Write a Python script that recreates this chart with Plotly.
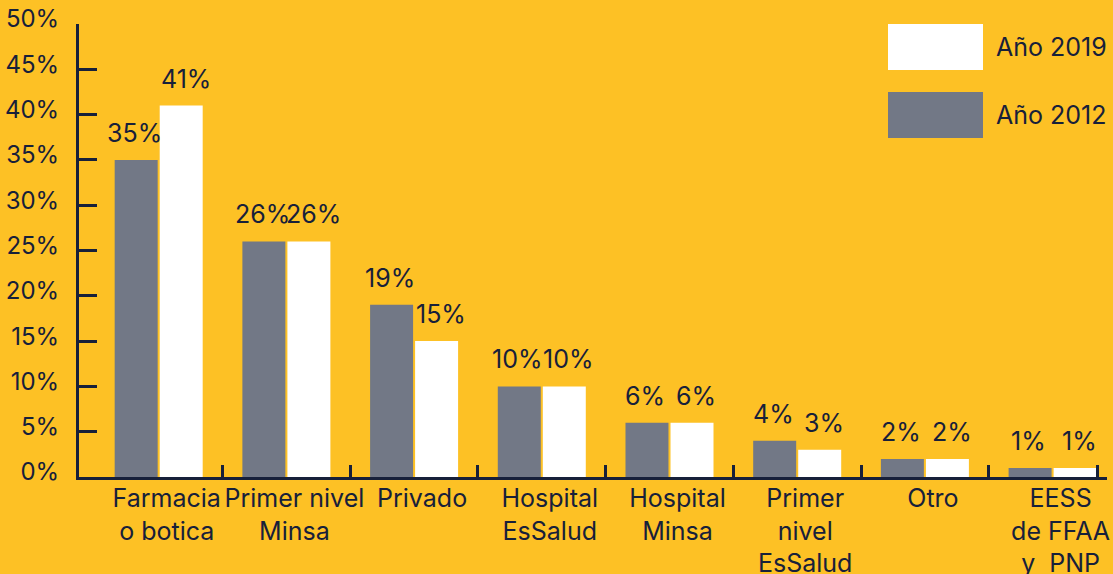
import plotly.graph_objects as go

categories = ["Farmacia<br>o botica", "Primer nivel<br>Minsa", "Privado", "Hospital<br>EsSalud",
              "Hospital<br>Minsa", "Primer<br>nivel<br>EsSalud", "Otro", "EESS<br>de FFAA<br>y  PNP"]
values_2012 = [35, 26, 19, 10, 6, 4, 2, 1]
values_2019 = [41, 26, 15, 10, 6, 3, 2, 1]
series_names = ["Año 2012", "Año 2019"]
y_ticks = [0, 5, 10, 15, 20, 25, 30, 35, 40, 45, 50]

BG = "#FDC125"
GREY = "#727886"
WHITE = "#FFFFFF"
NAVY = "#17203A"
FONT = "Inter"
X_RANGE = [-0.624, 7.426]

fig = go.Figure()
fig.add_trace(go.Bar(x=categories, y=values_2012, name=series_names[0], marker=dict(color=GREY, line=dict(width=0))))
fig.add_trace(go.Bar(x=categories, y=values_2019, name=series_names[1], marker=dict(color=WHITE, line=dict(width=0))))
# invisible trace to drive the boundary tick axis
fig.add_trace(go.Scatter(x=[0.5], y=[0], xaxis="x2", mode="markers", marker=dict(opacity=0), hoverinfo="skip", showlegend=False))

annotations = []
for vals, shift in ((values_2012, -24), (values_2019, 27)):
    for c, v in zip(categories, vals):
        annotations.append(dict(x=c, y=v, xref="x", yref="y", text=f"{v}%", showarrow=False,
                                xshift=shift, yanchor="bottom", yshift=10,
                                font=dict(family=FONT, size=25, color=NAVY)))

# manual legend
W, H = 1028, 453
def px(xp):
    return (xp - 79) / W
def py(yp):
    return (477 - yp) / H

shapes = [
    dict(type="rect", xref="paper", yref="paper", x0=px(888), x1=px(983), y0=py(70), y1=py(24),
         fillcolor=WHITE, line=dict(width=0), layer="above"),
    dict(type="rect", xref="paper", yref="paper", x0=px(888), x1=px(983), y0=py(138), y1=py(92),
         fillcolor=GREY, line=dict(width=0), layer="above"),
]
annotations.append(dict(x=px(994), y=py(47), xref="paper", yref="paper", text=series_names[1], showarrow=False,
                        xanchor="left", yanchor="middle", font=dict(family=FONT, size=25, color=NAVY)))
annotations.append(dict(x=px(994), y=py(115), xref="paper", yref="paper", text=series_names[0], showarrow=False,
                        xanchor="left", yanchor="middle", font=dict(family=FONT, size=25, color=NAVY)))

fig.update_layout(
    width=1113, height=574,
    paper_bgcolor=BG, plot_bgcolor=BG,
    margin=dict(l=79, r=6, t=24, b=97, autoexpand=False),
    barmode="group", bargap=0.295, bargroupgap=0.045,
    showlegend=False,
    font=dict(family=FONT, size=24, color=NAVY),
    xaxis=dict(type="category", range=X_RANGE, showgrid=False, zeroline=False, automargin=False,
               showline=True, linecolor=NAVY, linewidth=3, ticks="", tickangle=0, ticklabelshift=8,
               ticklabelstandoff=-3,
               tickfont=dict(family=FONT, size=25, color=NAVY)),
    xaxis2=dict(overlaying="x", type="linear", range=X_RANGE, side="bottom", automargin=False,
                tickvals=[0.5, 1.5, 2.5, 3.5, 4.5, 5.5, 6.5, 7.35], ticks="inside", ticklen=12,
                tickwidth=2.5, tickcolor=NAVY, showticklabels=False, showgrid=False, zeroline=False,
                showline=False),
    yaxis=dict(range=[0, 50], tickvals=y_ticks, ticktext=[f"{t}%" for t in y_ticks], automargin=False,
               showgrid=False, zeroline=False, showline=True, linecolor=NAVY, linewidth=3,
               ticks="inside", ticklen=18, tickwidth=2.5, tickcolor=NAVY,
               ticklabelstandoff=12, ticklabelshift=-5,
               tickfont=dict(family=FONT, size=24, color=NAVY)),
    annotations=annotations,
    shapes=shapes,
)

fig.write_html("out.html", config={"displayModeBar": False},
               post_script="document.body.style.margin='0';document.body.style.overflow='hidden';")
